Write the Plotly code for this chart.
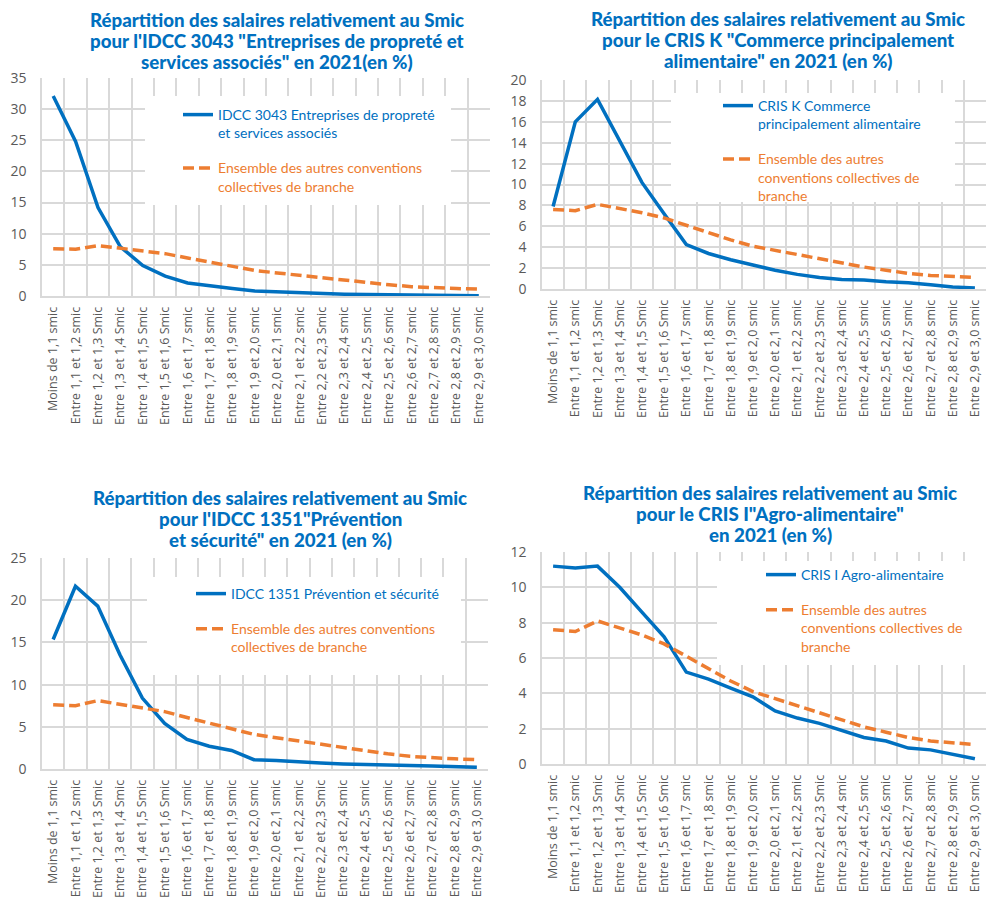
import plotly.graph_objects as go

categories = ["Moins de 1,1 smic", "Entre 1,1 et 1,2 smic", "Entre 1,2 et 1,3 Smic",
              "Entre 1,3 et 1,4 Smic", "Entre 1,4 et 1,5 Smic", "Entre 1,5 et 1,6 Smic",
              "Entre 1,6 et 1,7 smic", "Entre 1,7 et 1,8 smic", "Entre 1,8 et 1,9 smic",
              "Entre 1,9 et 2,0 smic", "Entre 2,0 et 2,1 smic", "Entre 2,1 et 2,2 smic",
              "Entre 2,2 et 2,3 Smic", "Entre 2,3 et 2,4 smic", "Entre 2,4 et 2,5 smic",
              "Entre 2,5 et 2,6 smic", "Entre 2,6 et 2,7 smic", "Entre 2,7 et 2,8 smic",
              "Entre 2,8 et 2,9 smic", "Entre 2,9 et 3,0 smic"]

autres = [7.6, 7.5, 8.1, 7.7, 7.3, 6.8, 6.1, 5.4, 4.7, 4.1, 3.7, 3.3, 2.9, 2.5, 2.1, 1.8, 1.5, 1.3, 1.2, 1.1]

idcc3043 = [32.1, 24.8, 14.2, 7.9, 4.9, 3.2, 2.1, 1.6, 1.2, 0.8, 0.65, 0.5, 0.4, 0.3, 0.25, 0.2, 0.15, 0.12, 0.1, 0.05]
cris_k = [7.9, 16.0, 18.15, 14.1, 10.2, 7.2, 4.25, 3.4, 2.8, 2.3, 1.8, 1.4, 1.1, 0.9, 0.85, 0.7, 0.6, 0.4, 0.2, 0.1]
idcc1351 = [15.35, 21.65, 19.3, 13.5, 8.4, 5.4, 3.5, 2.7, 2.2, 1.1, 1.0, 0.8, 0.7, 0.6, 0.5, 0.45, 0.4, 0.35, 0.3, 0.2]
cris_i = [11.2, 11.1, 11.2, 10.0, 8.6, 7.2, 5.2, 4.8, 4.3, 3.8, 3.0, 2.6, 2.3, 1.9, 1.5, 1.3, 0.9, 0.8, 0.55, 0.3]

names_main = ["IDCC 3043 Entreprises de propreté<br>et services associés",
              "CRIS K Commerce<br>principalement alimentaire",
              "IDCC 1351 Prévention et sécurité",
              "CRIS I Agro-alimentaire"]
names_autres = ["Ensemble des autres conventions<br>collectives de branche",
                "Ensemble des autres<br>conventions collectives de<br>branche",
                "Ensemble des autres conventions<br>collectives de branche",
                "Ensemble des autres<br>conventions collectives de<br>branche"]
titles = [["Répartition des salaires relativement au Smic",
           "pour l'IDCC 3043 \"Entreprises de propreté et",
           "services associés\" en 2021(en %)"],
          ["Répartition des salaires relativement au Smic",
           "pour le CRIS K \"Commerce principalement",
           "alimentaire\" en 2021 (en %)"],
          ["Répartition des salaires relativement au Smic",
           "pour l'IDCC 1351\"Prévention",
           "et sécurité\" en 2021 (en %)"],
          ["Répartition des salaires relativement au Smic",
           "pour le CRIS I\"Agro-alimentaire\"",
           "en 2021 (en %)"]]
series_main = [idcc3043, cris_k, idcc1351, cris_i]
y_max = [35, 20, 25, 12]
y_dtick = [5, 2, 5, 2]

W, H = 986, 919
BLUE = "#0070C0"
ORANGE = "#ED7D31"
GRID = "#D9D9D9"
TICK = "#595959"

# pixel layout: (x0, x1, ytop, ybottom)
boxes = [(42, 490, 78, 296), (542, 986, 80, 289), (42, 488, 558, 769), (542, 986, 552, 764)]
title_pos = [(277, 20), (778, 19), (280, 498), (770, 493)]
legend_pos = [(178, 99), (718, 90), (191, 578), (761, 559)]
legend_box = [(145, 451, 96, 205), (671, 955, 93, 202), (147, 461, 577, 675), (717, 986, 561, 665)]

fig = go.Figure()
for i in range(4):
    ax = "" if i == 0 else str(i + 1)
    leg = "legend" if i == 0 else "legend" + str(i + 1)
    fig.add_trace(go.Scatter(x=categories, y=series_main[i], mode="lines", name=names_main[i],
                             line=dict(color=BLUE, width=3.5), xaxis="x" + ax, yaxis="y" + ax,
                             legend=leg, legendgroup="a%d" % i, hoverinfo="skip"))
    fig.add_trace(go.Scatter(x=categories, y=autres, mode="lines",
                             name="<span style='color:%s'>%s</span>" % (ORANGE, names_autres[i]),
                             line=dict(color=ORANGE, width=3.5, dash="11px,5px"),
                             xaxis="x" + ax, yaxis="y" + ax,
                             legend=leg, legendgroup="b%d" % i, hoverinfo="skip"))

layout = dict(width=W, height=H, margin=dict(l=0, r=0, t=0, b=0),
              paper_bgcolor="white", plot_bgcolor="white", showlegend=True)
annotations = []
shapes = []
for i in range(4):
    ax = "" if i == 0 else str(i + 1)
    x0, x1, yt, yb = boxes[i]
    layout["xaxis" + ax] = dict(domain=[x0 / W, x1 / W], anchor="y" + ax, type="category",
                                range=[-0.5, 19.5], tickson="boundaries", ticks="",
                                showgrid=True, gridcolor=GRID, gridwidth=1.5,
                                tickangle=-90, automargin=False, ticklabelstandoff=4,
                                tickfont=dict(family="Open Sans", size=12.5, color=TICK),
                                showline=True, linecolor=GRID, linewidth=1.5)
    layout["yaxis" + ax] = dict(domain=[1 - yb / H, 1 - yt / H], anchor="x" + ax,
                                range=[0, y_max[i]], dtick=y_dtick[i], showgrid=True,
                                gridcolor=GRID, gridwidth=1.5, zeroline=False,
                                showline=True, linecolor=GRID, linewidth=1.5,
                                automargin=False, ticks="", ticklabelstandoff=11,
                                tickfont=dict(family="Open Sans", size=14, color=TICK))
    tx, ty = title_pos[i]
    for k, line in enumerate(titles[i]):
        annotations.append(dict(text=line, x=tx / W, y=1 - (ty + 21 * k) / H,
                                xref="paper", yref="paper", xanchor="center", yanchor="middle",
                                showarrow=False, align="center",
                                font=dict(family="Lato", size=18.7, weight=900, color=BLUE)))
    lx, ly = legend_pos[i]
    leg = "legend" if i == 0 else "legend" + str(i + 1)
    layout[leg] = dict(x=lx / W, y=1 - ly / H, xanchor="left", yanchor="top",
                       bgcolor="rgba(0,0,0,0)", traceorder="grouped", tracegroupgap=14,
                       valign="top", font=dict(family="Lato", size=14, color=BLUE))
    # white panel behind the legend (hides the gridlines, as in the original)
    bx0, bx1, by0, by1 = legend_box[i]
    pxc = (x1 - x0) / 20.0
    ppu = (yb - yt) / y_max[i]
    shapes.append(dict(type="rect", xref="x" + ax, yref="y" + ax,
                       x0=(bx0 - x0) / pxc - 0.5, x1=(bx1 - x0) / pxc - 0.5,
                       y0=(yb - by1) / ppu, y1=(yb - by0) / ppu,
                       fillcolor="white", line=dict(width=0), layer="between"))

layout["annotations"] = annotations
layout["shapes"] = shapes
fig.update_layout(**layout)

fig.write_html("out.html", config={"displayModeBar": False},
               post_script="document.body.style.margin='0px';")
